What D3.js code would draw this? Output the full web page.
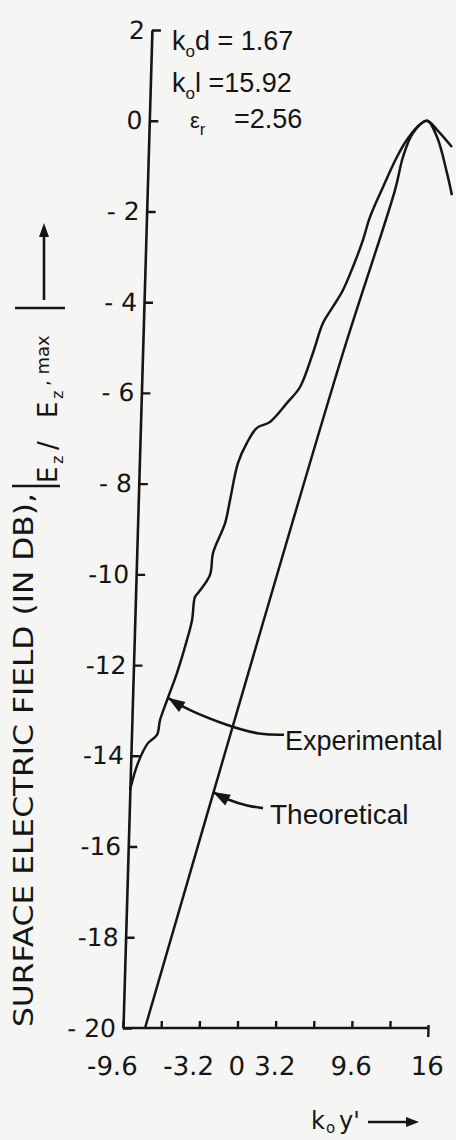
<!DOCTYPE html>
<html>
<head>
<meta charset="utf-8">
<script src="https://cdn.jsdelivr.net/npm/d3@7"></script>
<style>
  html, body { margin: 0; padding: 0; background: #f5f5f3; }
  svg { display: block; }
</style>
</head>
<body>
<svg id="chart" width="456" height="1140"></svg>
<script>
// Surface electric field |Ez/Ez,max| (dB) along ko*y'
const xTicks = [-9.6, -6.4, -3.2, 0, 3.2, 6.4, 9.6, 12.8, 16];
const xTickLabels = ["-9.6", "", "-3.2", "0", "3.2", "", "9.6", "", "16"];
const yTicks = [2, 0, -2, -4, -6, -8, -10, -12, -14, -16, -18, -20];
const yTickLabels = ["2", "0", "- 2", "- 4", "- 6", "- 8", "-10", "-12", "-14", "-16", "-18", "- 20"];

// measured curve
const expX = [-9.59, -8.99, -8.20, -7.46, -7.24, -6.63, -5.93, -5.18, -4.80, -4.61, -4.36, -3.40,
              -3.20, -2.26, -1.90, -1.32, -0.62, 0.19, 1.26, 2.65, 3.70, 4.70, 5.47, 6.27,
              7.07, 7.85, 8.62, 9.16, 10.18, 11.27, 12.07, 12.89, 13.71, 14.57, 15.87];
const expY = [-14.75, -14.16, -13.72, -13.54, -13.21, -12.72, -12.17, -11.45, -11.01, -10.50, -10.41, -10.01,
              -9.53, -8.87, -8.36, -7.54, -7.10, -6.77, -6.64, -6.22, -5.87, -5.12, -4.46, -4.10,
              -3.73, -3.22, -2.63, -2.12, -1.46, -0.80, -0.42, -0.14, 0.0, -0.20, -0.58];

// computed curve
const theoX = [-7.75, 0.78, 7.22, 11.19, 11.78, 12.56, 13.71, 14.59, 15.51, 15.98];
const theoY = [-20, -11.45, -5.12, -1.53, -0.80, -0.27, 0.0, -0.36, -1.15, -1.64];

// parameters printed in the corner
const params = [
  { sym: "k", sub: "o", rest: "d = 1.67" },
  { sym: "k", sub: "o", rest: "l =15.92" },
  { sym: "\u03b5", sub: "r", rest: "=2.56" }
];

const INK = "#151515";
const svg = d3.select("#chart");
svg.append("rect").attr("width", 456).attr("height", 1140).attr("fill", "#f5f5f3");

const xs = d3.scaleLinear().domain([-9.6, 16]).range([123, 428]);
const ys = d3.scaleLinear().domain([-20, 2]).range([1028, 30]);
const Y0 = ys(-20);
const lean = 0.029;                      // the ordinate is drawn leaning right
const leanDeg = Math.atan(lean) * 180 / Math.PI;
const toScreen = (x, y) => [xs(x) + lean * (Y0 - ys(y)), ys(y)];

const plot = svg.append("g")
  .attr("transform", `translate(0,${Y0}) skewX(${-leanDeg}) translate(0,${-Y0})`);

// y axis
const yAxis = plot.append("g")
  .attr("transform", `translate(${xs(-9.6)},0)`)
  .call(d3.axisLeft(ys)
    .tickValues(yTicks)
    .tickFormat(d => yTickLabels[yTicks.indexOf(d)])
    .tickSizeInner(-9).tickSizeOuter(0).tickPadding(7));

// x axis
const xAxis = plot.append("g")
  .attr("transform", `translate(0,${Y0})`)
  .call(d3.axisBottom(xs)
    .tickValues(xTicks)
    .tickFormat(d => xTickLabels[xTicks.indexOf(d)])
    .tickSizeInner(-7).tickSizeOuter(0).tickPadding(29));

[yAxis, xAxis].forEach(ax => {
  ax.select(".domain").attr("stroke", INK).attr("stroke-width", 2.6);
  ax.selectAll(".tick line").attr("stroke", INK).attr("stroke-width", 2.4);
  ax.selectAll(".tick text")
    .attr("fill", INK)
    .attr("font-family", "'DejaVu Sans', sans-serif")
    .attr("font-size", 25);
});
xAxis.selectAll(".tick text")
  .attr("font-size", 26)
  .attr("dx", d => d < 0 ? -10 : 0);
xAxis.selectAll(".tick line").filter(d => d === 16).attr("y1", 9).attr("y2", -3);
xAxis.select(".domain").attr("d", `M${xs(-9.6)},0H${xs(16)}`);

// curves
const line = d3.line()
  .x(d => xs(d[0])).y(d => ys(d[1]))
  .curve(d3.curveCatmullRom.alpha(0.5));

plot.append("path")
  .datum(expX.map((x, i) => [x, expY[i]]))
  .attr("d", line)
  .attr("fill", "none").attr("stroke", INK).attr("stroke-width", 2.5)
  .attr("stroke-linejoin", "round");

plot.append("path")
  .datum(theoX.map((x, i) => [x, theoY[i]]))
  .attr("d", line)
  .attr("fill", "none").attr("stroke", INK).attr("stroke-width", 2.5)
  .attr("stroke-linejoin", "round");

// leader arrows with labels
function leader(tip, offsets, label, lx, ly, size) {
  const pts = [tip].concat(offsets.map(o => [tip[0] + o[0], tip[1] + o[1]]));
  svg.append("path")
    .attr("d", d3.line().curve(d3.curveBasis)(pts))
    .attr("fill", "none").attr("stroke", INK).attr("stroke-width", 2.6);
  const dx = offsets[0][0], dy = offsets[0][1];
  const m = Math.hypot(dx, dy), ux = dx / m, uy = dy / m;
  const bx = tip[0] + ux * 17, by = tip[1] + uy * 17;
  svg.append("path")
    .attr("d", `M${tip[0]},${tip[1]}L${bx - uy * 6},${by + ux * 6}L${bx + uy * 6},${by - ux * 6}Z`)
    .attr("fill", INK);
  svg.append("text")
    .attr("x", lx).attr("y", ly)
    .attr("font-family", "'Liberation Sans', sans-serif")
    .attr("font-size", size)
    .attr("fill", INK)
    .text(label);
}
leader(toScreen(-6.63, -12.72), [[17, 11], [62, 29], [92, 37], [116, 37]], "Experimental", 285, 750, 27);
leader(toScreen(-2.62, -14.80), [[15, 8], [35, 14], [50, 16]], "Theoretical", 270, 824, 28);

// parameter block
const py = [50, 92, 128];
const px = [172, 172, 190];
params.forEach((p, i) => {
  const t = svg.append("text")
    .attr("x", px[i]).attr("y", py[i])
    .attr("font-family", "'Liberation Sans', sans-serif")
    .attr("font-size", i === 2 ? 22 : 27)
    .attr("fill", INK);
  t.append("tspan").text(p.sym);
  t.append("tspan").attr("font-size", 17).attr("dy", 7).text(p.sub);
  if (i === 2) {
    svg.append("text")
      .attr("x", 234).attr("y", py[i])
      .attr("font-family", "'Liberation Sans', sans-serif")
      .attr("font-size", 27).attr("fill", INK)
      .text(p.rest);
  } else {
    t.append("tspan").attr("dy", -7).text(p.rest);
  }
});

// y-axis title, read bottom to top
const yt = svg.append("g").attr("transform", "rotate(-90)");
yt.append("text")
  .attr("x", -1027).attr("y", 33)
  .attr("font-family", "'DejaVu Sans', sans-serif")
  .attr("font-size", 27)
  .attr("textLength", 534).attr("lengthAdjust", "spacingAndGlyphs")
  .attr("fill", INK)
  .text("SURFACE ELECTRIC FIELD (IN DB),");
const ytPieces = [
  { t: "E", x: -483, y: 57, s: 26 },
  { t: "z", x: -464, y: 63, s: 16 },
  { t: "/", x: -450, y: 57, s: 26 },
  { t: "E", x: -418, y: 57, s: 26 },
  { t: "z", x: -399, y: 63, s: 16 },
  { t: ", max", x: -386, y: 49, s: 18 }
];
ytPieces.forEach(p => {
  yt.append("text")
    .attr("x", p.x).attr("y", p.y)
    .attr("font-family", "'DejaVu Sans', sans-serif")
    .attr("font-size", p.s).attr("fill", INK)
    .text(p.t);
});
// absolute-value bars and the pointer arrow
[[486, 12, 60], [308, 15, 65]].forEach(b => {
  svg.append("line")
    .attr("x1", b[1]).attr("x2", b[2]).attr("y1", b[0]).attr("y2", b[0])
    .attr("stroke", INK).attr("stroke-width", 2.6);
});
svg.append("line").attr("x1", 44).attr("x2", 44).attr("y1", 300).attr("y2", 234)
  .attr("stroke", INK).attr("stroke-width", 2.6);
svg.append("path").attr("d", "M44,223L49,237L39,237Z").attr("fill", INK);

// x-axis title
const xt = svg.append("text")
  .attr("x", 311).attr("y", 1129)
  .attr("font-family", "'DejaVu Sans', sans-serif")
  .attr("font-size", 24).attr("fill", INK);
xt.append("tspan").text("k");
xt.append("tspan").attr("font-size", 15).attr("dy", 4).attr("dx", 1).text("o");
xt.append("tspan").attr("dy", -4).attr("dx", 4).text("y'");
svg.append("line").attr("x1", 368).attr("x2", 410).attr("y1", 1122).attr("y2", 1122)
  .attr("stroke", INK).attr("stroke-width", 2.6);
svg.append("path").attr("d", "M419,1122L406,1117L406,1127Z").attr("fill", INK);
</script>
</body>
</html>
